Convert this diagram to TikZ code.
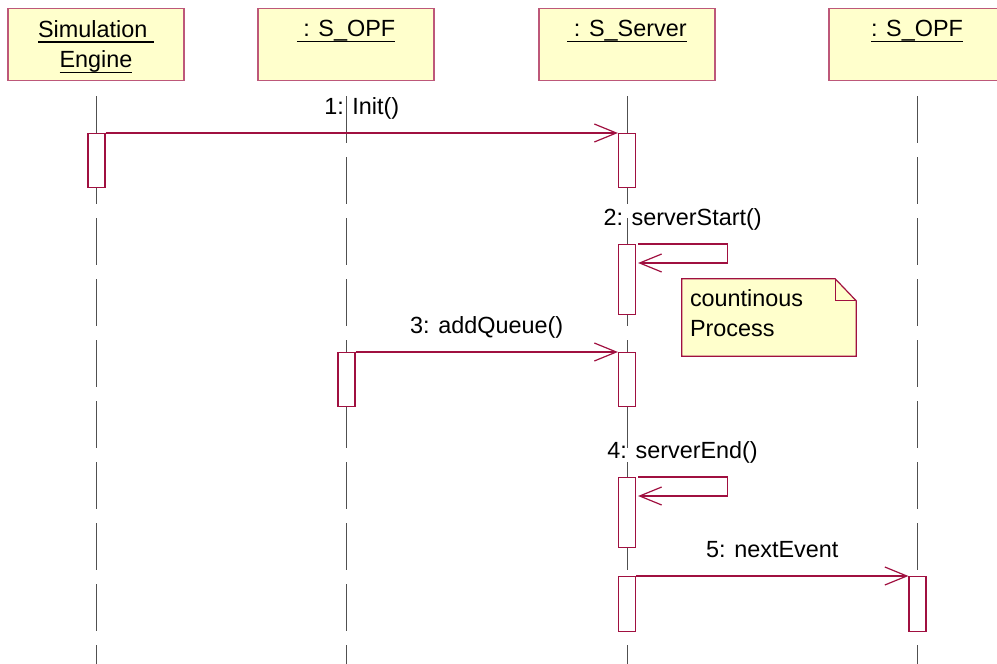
\documentclass[tikz,border=0pt]{standalone}
\usepackage{fontspec}
\setmainfont{Liberation Sans}
\usepackage{tikz}
\usetikzlibrary{arrows.meta,positioning,backgrounds}
\usepackage{xcolor}
\definecolor{umlred}{RGB}{160,16,64}
\definecolor{umlyellow}{RGB}{255,255,204}
\definecolor{lifegray}{RGB}{80,80,80}
\newsavebox{\objnamebox}
\newcommand{\objname}[1]{%
  \sbox{\objnamebox}{#1}%
  \rlap{\rule[-5.5pt]{\wd\objnamebox}{1.5pt}}\usebox{\objnamebox}}
\tikzset{
  header/.style={
    draw=umlred!70, fill=umlyellow, line width=1.2pt,
    anchor=north, minimum width=176pt,
    inner xsep=0pt, inner ysep=0pt,
    text height=28pt, text depth=44pt, align=center
  },
  lifeline/.style={draw=lifegray, line width=1pt, dash pattern=on 47pt off 14pt},
  activation/.style={
    draw=umlred, fill=white, line width=1.2pt,
    anchor=north, minimum width=17pt, inner sep=0pt
  },
  msg/.style={draw=umlred, line width=1.2pt, -{Straight Barb[length=22pt,width=18pt]}},
  msglabel/.style={anchor=base, yshift=19pt, inner sep=0pt},
  note/.style={
    minimum width=174pt, minimum height=77pt, text width=158pt,
    align=left, inner sep=0pt, text height=17pt, text depth=40pt
  },
  notepaper/.style={draw=umlred, fill=umlyellow, line width=1.2pt}
}

\begin{document}
\begin{tikzpicture}[x=1pt, y=-1pt, font=\fontsize{23.4}{30.5}\selectfont]
  \useasboundingbox (0,0) rectangle (997,664);
  \coordinate (bottom) at (0,664);

  % objects
  \node[header, text height=59pt, text depth=13pt] (eng) at (96,8)
    {\objname{Simulation\ }\\\objname{Engine}};
  \node[header] (opfa) at (346,8) {\objname{\ : S\_OPF}};
  \node[header] (srv) at (627,8) {\objname{\ : S\_Server}};
  \node[header] (opfb) at (917,8) {\objname{: S\_OPF}};

  % lifelines
  \foreach \obj in {eng,opfa,srv,opfb}
    \draw[lifeline] ([yshift=-15pt]\obj.south) -- (\obj.south |- bottom);

  % activations
  \node[activation, minimum height=54pt] (eng1) at (96.5,133) {};
  \node[activation, minimum height=54pt] (srv1) at (627,133) {};
  \node[activation, minimum height=70pt] (srv2) at (627,244) {};
  \node[activation, minimum height=54pt] (opfa1) at (346.5,352) {};
  \node[activation, minimum height=54pt] (srv3) at (627,352) {};
  \node[activation, minimum height=70pt] (srv4) at (627,477) {};
  \node[activation, minimum height=55pt] (srv5) at (627,576) {};
  \node[activation, minimum height=55pt] (opfb1) at (917.5,576) {};

  % messages
  \draw[msg] (eng1.north east) -- (srv1.north west)
    node[msglabel, midway] (m1) {1: Init()};
  \draw[msg] ([xshift=2pt]srv2.north east) -- ++(89,0)
    node[msglabel, midway] (m2) {2: serverStart()}
    -- ++(0,19) -- ([xshift=2pt, yshift=-19pt]srv2.north east);
  \draw[msg] (opfa1.north east) -- (srv3.north west)
    node[msglabel, midway] (m3) {3: addQueue()};
  \draw[msg] ([xshift=2pt]srv4.north east) -- ++(89,0)
    node[msglabel, midway] (m4) {4: serverEnd()}
    -- ++(0,19) -- ([xshift=2pt, yshift=-19pt]srv4.north east);
  \draw[msg] (srv5.north east) -- (opfb1.north west)
    node[msglabel, midway] (m5) {5: nextEvent};

  % note
  \node[note] (note) at (769,317.5) {countinous\\Process};
  \begin{pgfonlayer}{background}
    \draw[notepaper] (note.north west) -- ([xshift=-21pt]note.north east)
      -- ([yshift=-22pt]note.north east) -- (note.south east)
      -- (note.south west) -- cycle;
  \end{pgfonlayer}
  \draw[notepaper, fill=none] ([xshift=-21pt]note.north east) -- ++(0,22)
    -- ([yshift=-22pt]note.north east);
\end{tikzpicture}
\end{document}
